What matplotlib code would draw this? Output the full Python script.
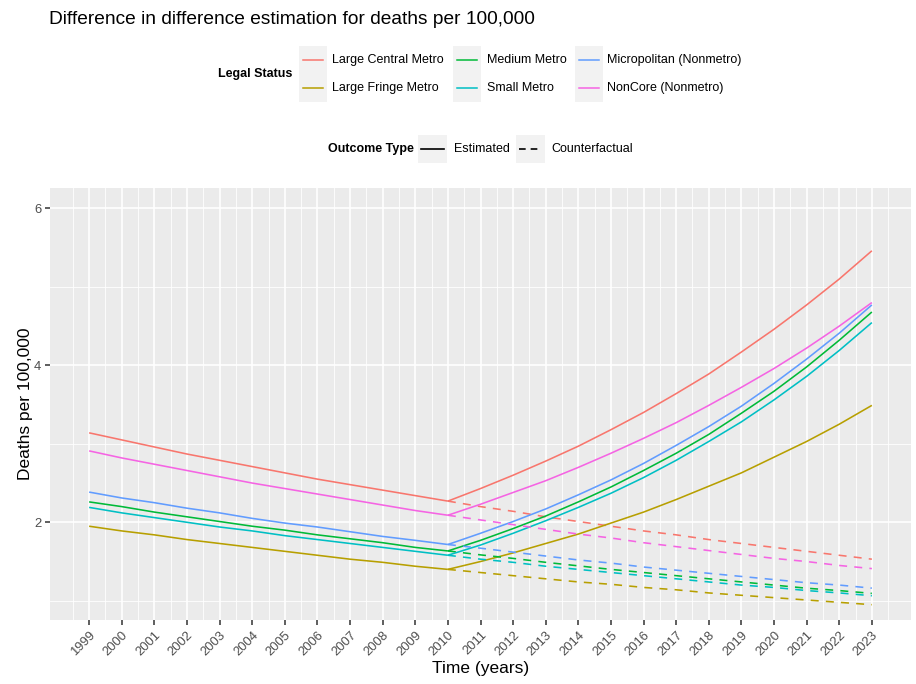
import matplotlib
matplotlib.use("Agg")
import matplotlib.pyplot as plt
from matplotlib.lines import Line2D
from matplotlib.patches import Rectangle

plt.rcParams["font.family"] = ["Liberation Sans", "DejaVu Sans"]

years_pre = list(range(1999, 2011))
years_post = list(range(2010, 2024))

regions = ["Large Central Metro", "Large Fringe Metro", "Medium Metro",
           "Small Metro", "Micropolitan (Nonmetro)", "NonCore (Nonmetro)"]
colores = ["#F8766D", "#B79F00", "#00BA38", "#00BFC4", "#619CFF", "#F564E3"]

# estimated, 1999-2010
central_pre = [3.14, 3.05, 2.96, 2.87, 2.79, 2.71, 2.63, 2.55, 2.48, 2.41, 2.34, 2.27]
fringe_pre = [1.95, 1.89, 1.84, 1.78, 1.73, 1.68, 1.63, 1.58, 1.53, 1.49, 1.44, 1.40]
medium_pre = [2.26, 2.20, 2.13, 2.07, 2.01, 1.95, 1.90, 1.84, 1.79, 1.74, 1.68, 1.635]
small_pre = [2.19, 2.12, 2.06, 2.00, 1.94, 1.89, 1.83, 1.78, 1.73, 1.68, 1.63, 1.58]
micro_pre = [2.385, 2.31, 2.25, 2.18, 2.12, 2.05, 1.99, 1.94, 1.88, 1.82, 1.77, 1.717]
noncore_pre = [2.91, 2.82, 2.74, 2.66, 2.58, 2.50, 2.43, 2.36, 2.29, 2.22, 2.15, 2.09]

# estimated, 2010-2023
central_post = [2.27, 2.43, 2.60, 2.78, 2.97, 3.18, 3.40, 3.64, 3.89, 4.17, 4.46, 4.77, 5.10, 5.46]
fringe_post = [1.40, 1.50, 1.61, 1.73, 1.85, 1.99, 2.13, 2.29, 2.46, 2.63, 2.83, 3.03, 3.25, 3.49]
medium_post = [1.635, 1.77, 1.92, 2.08, 2.26, 2.45, 2.66, 2.88, 3.12, 3.39, 3.67, 3.98, 4.32, 4.68]
small_post = [1.58, 1.71, 1.86, 2.02, 2.19, 2.37, 2.57, 2.79, 3.03, 3.28, 3.56, 3.86, 4.19, 4.545]
micro_post = [1.717, 1.86, 2.01, 2.17, 2.35, 2.54, 2.75, 2.98, 3.22, 3.48, 3.77, 4.08, 4.41, 4.77]
noncore_post = [2.09, 2.23, 2.38, 2.53, 2.70, 2.88, 3.07, 3.27, 3.49, 3.72, 3.96, 4.22, 4.50, 4.80]

# counterfactual, 2010-2023
central_cf = [2.27, 2.20, 2.14, 2.07, 2.01, 1.95, 1.89, 1.84, 1.78, 1.73, 1.68, 1.63, 1.58, 1.53]
fringe_cf = [1.40, 1.36, 1.32, 1.28, 1.24, 1.21, 1.17, 1.14, 1.10, 1.07, 1.04, 1.01, 0.98, 0.95]
medium_cf = [1.635, 1.585, 1.54, 1.49, 1.445, 1.40, 1.36, 1.32, 1.28, 1.24, 1.20, 1.16, 1.13, 1.094]
small_cf = [1.58, 1.53, 1.49, 1.44, 1.40, 1.36, 1.32, 1.28, 1.24, 1.20, 1.17, 1.13, 1.10, 1.064]
micro_cf = [1.717, 1.67, 1.62, 1.57, 1.52, 1.48, 1.43, 1.39, 1.35, 1.31, 1.27, 1.23, 1.20, 1.161]
noncore_cf = [2.09, 2.03, 1.97, 1.91, 1.85, 1.80, 1.74, 1.69, 1.64, 1.59, 1.54, 1.50, 1.45, 1.41]

pre = [central_pre, fringe_pre, medium_pre, small_pre, micro_pre, noncore_pre]
post = [central_post, fringe_post, medium_post, small_post, micro_post, noncore_post]
cf = [central_cf, fringe_cf, medium_cf, small_cf, micro_cf, noncore_cf]

W, H = 916, 684


def fx(x):
    return x / W


def fy(y):
    return 1 - y / H


def leyenda(fig):
    txt = "#000000"
    # Legal Status
    fig.text(fx(218), fy(74), "Legal Status", fontsize=9, fontweight="bold",
             va="center", ha="left", color=txt)
    cols = [(299, 332), (453, 487), (575, 607)]
    rows = [60, 88]
    for i, region in enumerate(regions):
        c, r = divmod(i, 2)
        kx, tx = cols[c]
        y = rows[r]
        fig.add_artist(Rectangle((fx(kx), fy(y + 14)), 28 / W, 28 / H,
                                 transform=fig.transFigure, facecolor="#F2F2F2",
                                 edgecolor="none"))
        fig.add_artist(Line2D([fx(kx + 4), fx(kx + 24)], [fy(y), fy(y)],
                              transform=fig.transFigure, color=colores[i], lw=1.1))
        fig.text(fx(tx), fy(y), region, fontsize=9, va="center", ha="left", color=txt)

    # Outcome Type
    fig.text(fx(328), fy(149), "Outcome Type", fontsize=9, fontweight="bold",
             va="center", ha="left", color=txt)
    for kx, tx, label, ls in [(418, 454, "Estimated", "-"), (516, 551, "Counterfactual", (0, (4, 3)))]:
        fig.add_artist(Rectangle((fx(kx), fy(163)), 29 / W, 28 / H,
                                 transform=fig.transFigure, facecolor="#F2F2F2",
                                 edgecolor="none"))
        fig.add_artist(Line2D([fx(kx + 3), fx(kx + 26)], [fy(149), fy(149)],
                              transform=fig.transFigure, color="black", lw=1.2,
                              linestyle=ls))
        fig.text(fx(tx), fy(149), label, fontsize=9, va="center", ha="left", color=txt)


def graficar(output_path):
    fig = plt.figure(figsize=(W / 100, H / 100), dpi=100)
    ax = fig.add_axes([fx(50), fy(620), (911 - 50) / W, (620 - 188) / H])
    ax.set_facecolor("#EBEBEB")

    for i in range(len(regions)):
        ax.plot(years_pre, pre[i], color=colores[i], lw=1.15, solid_capstyle="butt")
        ax.plot(years_post, post[i], color=colores[i], lw=1.15, solid_capstyle="butt")
        ax.plot(years_post, cf[i], color=colores[i], lw=1.15, linestyle=(0, (5, 4.5)))

    ax.set_xlim(1997.8, 2024.2)
    ax.set_ylim(0.755, 6.26)
    ax.set_xticks(list(range(1999, 2024)))
    ax.set_xticklabels([str(y) for y in range(1999, 2024)], rotation=45, ha="right",
                       rotation_mode="anchor", fontsize=9.4, color="#4D4D4D")
    ax.set_xticks([y + 0.5 for y in range(1998, 2024)], minor=True)
    ax.set_yticks([2, 4, 6])
    ax.set_yticklabels(["2", "4", "6"], fontsize=9.4, color="#4D4D4D")
    ax.set_yticks([1, 3, 5], minor=True)
    ax.tick_params(which="major", length=3.8, width=1.1, color="#333333", pad=2.5)
    ax.tick_params(which="minor", length=0)
    ax.grid(which="major", color="white", lw=1.2)
    ax.grid(which="minor", color="white", lw=0.6)
    ax.set_axisbelow(True)
    for s in ax.spines.values():
        s.set_visible(False)

    ax.set_xlabel("Time (years)", fontsize=12.5, labelpad=2)
    ax.set_ylabel("Deaths per 100,000", fontsize=12.5, labelpad=1)

    fig.text(fx(49), fy(19), "Difference in difference estimation for deaths per 100,000",
             fontsize=13.8, va="center", ha="left")
    leyenda(fig)

    fig.savefig(output_path, dpi=100)
    plt.close(fig)


def main():
    graficar("out.png")


if __name__ == "__main__":
    main()
